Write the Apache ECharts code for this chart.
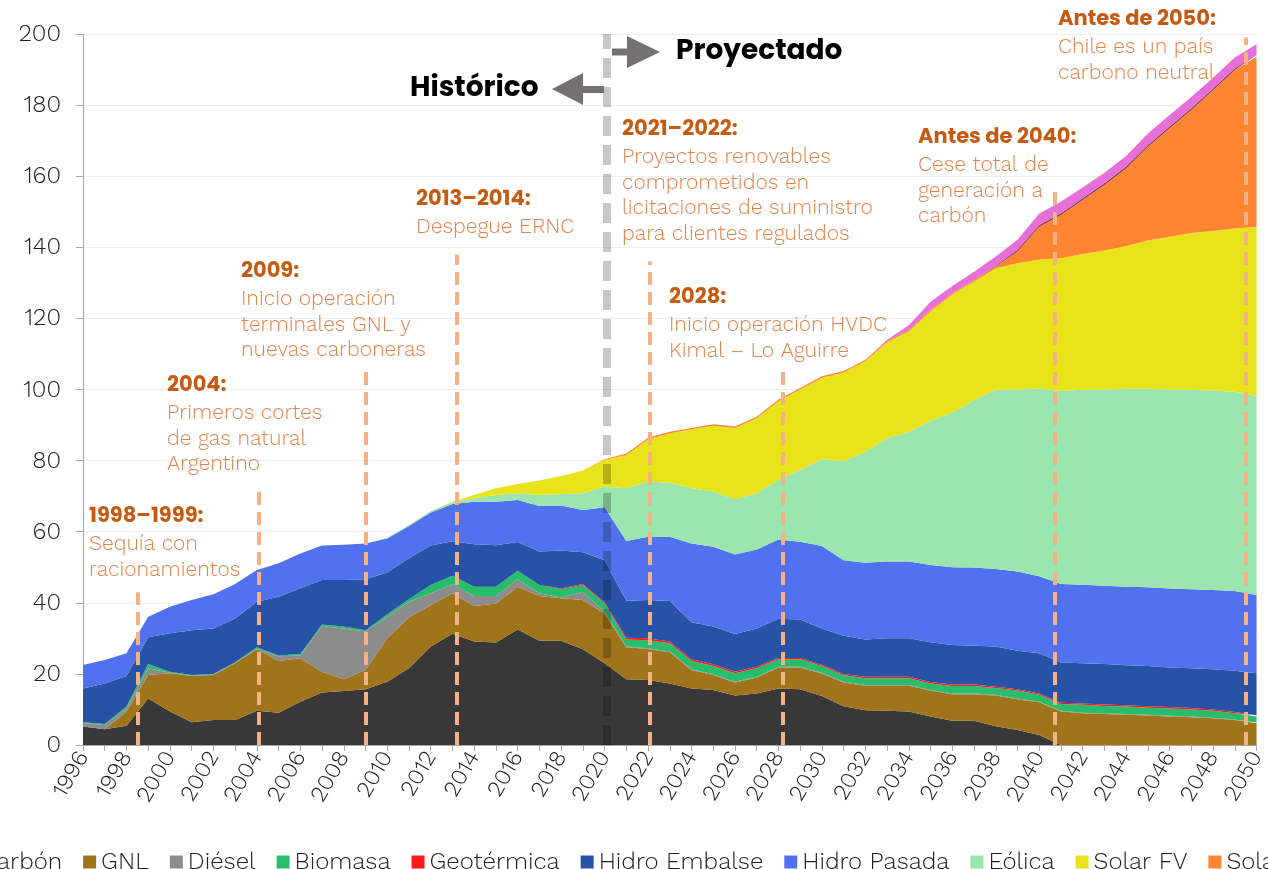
<!DOCTYPE html>
<html>
<head>
<meta charset="utf-8">
<script src="https://cdn.jsdelivr.net/npm/echarts@6/dist/echarts.min.js"></script>
<style>html,body{margin:0;padding:0;background:#fff}#main{width:1268px;height:869px}</style>
</head>
<body>
<div id="main"></div>
<script>
// años 1996-2050
var anios = [];
for (var a = 1996; a <= 2050; a++) anios.push(String(a));

// generación por tecnología (TWh)
var carbon = [5.2,4.4,5.4,13.1,9.4,6.4,7.0,7.0,9.6,9.1, 12.2,14.8,15.2,15.7,17.8,21.6,27.7,31.3,29.1,28.8, 32.5,29.3,29.3,26.9,23.0,18.5,18.3,17.3,15.9,15.5, 13.9,14.5,15.9,15.7,13.8,10.9,9.8,9.6,9.4,8.0, 6.8,6.8,5.3,4.2,2.8,0,0,0,0,0, 0,0,0,0,0];
var gnl = [0,0,4.0,6.6,10.8,13.0,12.7,16.0,17.3,14.5, 12.2,5.8,3.3,5.4,12.2,14.3,11.7,11.4,10.0,11.0, 12.0,12.6,12.0,13.9,14.0,9.0,8.7,8.8,5.2,4.2, 3.7,4.5,5.9,6.1,6.3,6.7,6.9,7.1,7.3,7.3, 7.5,7.5,8.6,8.7,9.2,9.4,8.9,8.7,8.5,8.3, 8.0,7.8,7.5,7.0,6.1];
var diesel = [1.0,1.2,0.9,1.9,0.1,0.1,0.1,0.1,0.2,1.4, 0.8,12.9,14.3,10.8,6.1,4.4,3.3,2.5,2.8,2.1, 2.1,0.8,0.2,2.3,0.5,0.2,0.2,0.2,0.2,0.2, 0.2,0.2,0.2,0.2,0.2,0.2,0.2,0.2,0.2,0.2, 0.2,0.2,0.2,0.2,0.2,0.2,0.2,0.2,0.2,0.2, 0.2,0.2,0.2,0.2,0.2];
var biomasa = [0.2,0.3,0.5,1.2,0.3,0.2,0.2,0.2,0.4,0.2, 0.4,0.4,0.5,0.4,0.7,0.7,2.3,2.4,2.6,2.6, 2.4,2.3,2.3,1.9,2.3,2.0,2.3,2.3,2.3,2.3, 2.4,2.4,2.1,2.1,1.9,1.8,1.9,1.9,1.9,1.8, 2.1,2.1,1.9,2.2,1.9,1.9,2.2,2.1,2.1,2.0, 2.1,2.0,1.9,1.7,1.7];
var geotermica = [0,0,0,0,0,0,0,0,0,0, 0,0,0,0,0,0,0,0,0,0, 0,0,0.2,0.3,0.3,0.5,0.5,0.5,0.5,0.5, 0.4,0.4,0.4,0.4,0.4,0.4,0.4,0.4,0.4,0.4, 0.4,0.4,0.4,0.4,0.4,0.4,0.4,0.4,0.4,0.4, 0.4,0.4,0.4,0.4,0.4];
var hidroEmbalse = [9.5,11.4,8.6,7.5,10.8,12.6,12.8,12.3,12.8,16.5, 18.5,12.5,13.1,14.3,11.7,11.5,11.1,9.7,12.0,11.7, 8.1,9.4,10.7,8.9,11.9,10.4,10.8,11.4,10.4,10.6, 10.6,10.8,11.0,10.8,10.2,10.7,10.5,10.8,10.8,11.2, 11.1,10.9,11.3,10.8,11.3,11.3,11.3,11.4,11.2,11.3, 11.1,11.2,11.3,11.6,11.8];
var hidroPasada = [6.6,6.6,6.4,5.8,7.5,8.5,9.6,9.7,8.9,9.4, 9.8,9.7,9.9,10.1,9.6,9.1,9.3,10.5,11.9,12.2, 11.8,12.8,12.7,11.9,14.9,16.8,17.8,18.1,22.2,22.5, 22.4,22.2,22.3,21.9,23.2,21.3,21.6,21.6,21.6,21.7, 21.9,22.0,21.8,22.3,21.7,22.1,22.1,22.0,22.1,22.2, 22.2,22.2,22.3,22.4,22.0];
var eolica = [0,0,0,0,0,0,0,0,0,0, 0,0,0,0,0.2,0.3,0.4,0.5,1.0,1.9, 1.9,3.1,3.2,4.7,5.8,14.8,15.5,15.2,15.5,15.5, 15.5,15.8,16.8,20.2,24.4,27.8,31.2,34.7,36.5,40.6, 43.5,47.1,50.4,51.2,52.8,54.3,54.8,55.2,55.7,55.8, 56.0,56.1,56.1,56.1,56.0];
var solarFV = [0,0,0,0,0,0,0,0,0,0, 0,0,0,0,0,0,0,0.1,0.9,1.9, 2.6,4.1,5.1,6.4,7.5,9.4,11.9,13.9,16.6,18.5, 20.1,21.1,22.2,22.6,22.9,25.0,25.5,27.0,28.3,30.8, 33.2,33.4,34.2,35.5,36.3,37.3,38.2,39.1,40.2,41.7, 43.0,44.1,44.9,45.9,47.6];
var solarCSP = [0,0,0,0,0,0,0,0,0,0, 0,0,0,0,0,0,0,0,0,0, 0,0,0,0,0.2,0.4,0.4,0.4,0.4,0.4, 0.4,0.4,0.4,0.4,0.4,0.4,0.4,0.4,0.4,0.4, 0.4,0.4,0.5,3.3,9.2,12.2,15.2,18.4,21.8,26.4, 30.5,34.6,39.6,44.6,47.8];
var cogeneracion = [0,0,0,0,0,0,0,0,0,0, 0,0,0,0,0,0,0,0,0,0, 0,0,0,0,0,0,0,0,0,0, 0,0,0,0,0,0,0,0,0,0, 0,0,0.2,0.5,0.5,0.5,0.5,0.5,0.5,0.5, 0.5,0.5,0.5,0.5,0.5];
var almacenamiento = [0,0,0,0,0,0,0,0,0,0, 0,0,0,0,0,0,0,0,0,0, 0,0,0,0,0,0,0,0,0,0, 0,0,0,0,0,0,0,0.3,1.3,2.3, 2.0,2.3,2.6,2.8,3.2,3.2,3.0,3.0,3.0,3.2, 3.2,3.2,3.0,3.0,3.0];

var nombres = ['Carbón','GNL','Diésel','Biomasa','Geotérmica','Hidro Embalse','Hidro Pasada','Eólica','Solar FV','Solar CSP','Cogeneración','Almacenamiento'];
var colores = ['#383838','#A0741A','#8C8C8C','#27BD6A','#FF1A1A','#2752A5','#5271EE','#9AE6AE','#E8E31A','#FF8533','#8B3A46','#E66FD8'];
var valores = [carbon,gnl,diesel,biomasa,geotermica,hidroEmbalse,hidroPasada,eolica,solarFV,solarCSP,cogeneracion,almacenamiento];

// hitos: año de la línea, altura (TWh) y texto
var hitoAnio = [1998.5, 2004.1, 2009.0, 2013.2, 2022.1, 2028.2, 2040.7, 2049.5];
var hitoTope = [43, 73, 105, 138, 136, 105, 157, 199];
var hitoTitulo = ['1998–1999:','2004:','2009:','2013–2014:','2021–2022:','2028:','Antes de 2040:','Antes de 2050:'];
var hitoTexto = [
    ['Sequía con','racionamientos'],
    ['Primeros cortes','de gas natural','Argentino'],
    ['Inicio operación','terminales GNL y','nuevas carboneras'],
    ['Despegue ERNC'],
    ['Proyectos renovables','comprometidos en','licitaciones de suministro','para clientes regulados'],
    ['Inicio operación HVDC','Kimal – Lo Aguirre'],
    ['Cese total de','generación a','carbón'],
    ['Chile es un país','carbono neutral']
];
var hitoPos = [[89,517],[167,386],[241,272],[416,200],[622,130],[669,298],[918,138],[1058,20]];

var fuente = "'Work Sans','Open Sans',sans-serif";
var fuenteBold = "Poppins, Rubik, Inter, sans-serif";

var series = valores.map(function (arr, k) {
    return {
        name: nombres[k],
        type: 'line',
        stack: 'total',
        symbol: 'none',
        lineStyle: {width: 0},
        areaStyle: {color: colores[k], opacity: 1},
        itemStyle: {color: colores[k]},
        data: arr
    };
});

var lineas = hitoAnio.map(function (x, i) {
    return [{coord: [x, 0]}, {coord: [x, hitoTope[i]]}];
});
lineas.push([{coord: [2020.1, 0], lineStyle: {color: 'rgba(0,0,0,0.22)', width: 8, type: [20, 9]}}, {coord: [2020.1, 200]}]);

// serie auxiliar sobre eje de años continuo, solo para las líneas de hitos
series.push({
    type: 'line',
    xAxisIndex: 1,
    data: [],
    z: 5,
    markLine: {
        silent: true,
        symbol: 'none',
        label: {show: false},
        lineStyle: {color: '#F4B183', width: 4, type: [13, 7], opacity: 1},
        data: lineas
    }
});

var graficos = [];
hitoTitulo.forEach(function (t, i) {
    var x = hitoPos[i][0], y = hitoPos[i][1];
    graficos.push({type: 'text', x: x, y: y, z: 10, style: {text: t, font: '700 21px ' + fuenteBold, fill: '#C55A11', verticalAlign: 'middle'}});
    hitoTexto[i].forEach(function (l, j) {
        graficos.push({type: 'text', x: x, y: y + 27 + j * 25.5, z: 10, style: {text: l, font: '300 21px ' + fuente, fill: '#E0834C', verticalAlign: 'middle'}});
    });
});
// flechas Histórico / Proyectado
graficos.push(
    {type: 'polygon', z: 10, shape: {points: [[552, 89], [583, 73], [583, 105]]}, style: {fill: '#767171'}},
    {type: 'rect', z: 10, shape: {x: 582, y: 86, width: 22, height: 7}, style: {fill: '#767171'}},
    {type: 'rect', z: 10, shape: {x: 612, y: 48.5, width: 16, height: 7}, style: {fill: '#767171'}},
    {type: 'polygon', z: 10, shape: {points: [[627, 36], [660, 52], [627, 68]]}, style: {fill: '#767171'}},
    {type: 'text', z: 10, x: 410, y: 89, style: {text: 'Histórico', font: '700 28px ' + fuenteBold, fill: '#000', verticalAlign: 'middle'}},
    {type: 'text', z: 10, x: 676, y: 52, style: {text: 'Proyectado', font: '700 28px ' + fuenteBold, fill: '#000', verticalAlign: 'middle'}}
);

var chart = echarts.init(document.getElementById('main'));
chart.setOption({
    animation: false,
    grid: {left: 83, right: 6, top: 34, bottom: 124, containLabel: false},
    legend: {
        data: nombres,
        left: -42,
        top: 845,
        width: 1900,
        itemWidth: 13,
        itemHeight: 13,
        itemGap: 21,
        icon: 'rect',
        textStyle: {fontFamily: fuente, fontWeight: 300, fontSize: 24, color: '#222'}
    },
    xAxis: [{
        type: 'category',
        data: anios,
        boundaryGap: false,
        axisLine: {lineStyle: {color: '#A6A6A6'}},
        axisTick: {show: true, interval: 0, length: 6, lineStyle: {color: '#A6A6A6'}},
        splitLine: {show: false},
        axisLabel: {interval: 1, rotate: 60, margin: 8, fontFamily: fuente, fontWeight: 300, fontSize: 23, color: '#222'}
    }, {
        type: 'value',
        min: 1996,
        max: 2050,
        show: false
    }],
    yAxis: {
        type: 'value',
        min: 0,
        max: 200,
        interval: 20,
        axisLine: {show: true, lineStyle: {color: '#A6A6A6'}},
        axisTick: {show: true, length: 7, lineStyle: {color: '#A6A6A6'}},
        splitLine: {lineStyle: {color: '#EDEDED'}},
        axisLabel: {margin: 22, fontFamily: fuente, fontWeight: 300, fontSize: 24, color: '#222'}
    },
    series: series,
    graphic: graficos
});
</script>
</body>
</html>
